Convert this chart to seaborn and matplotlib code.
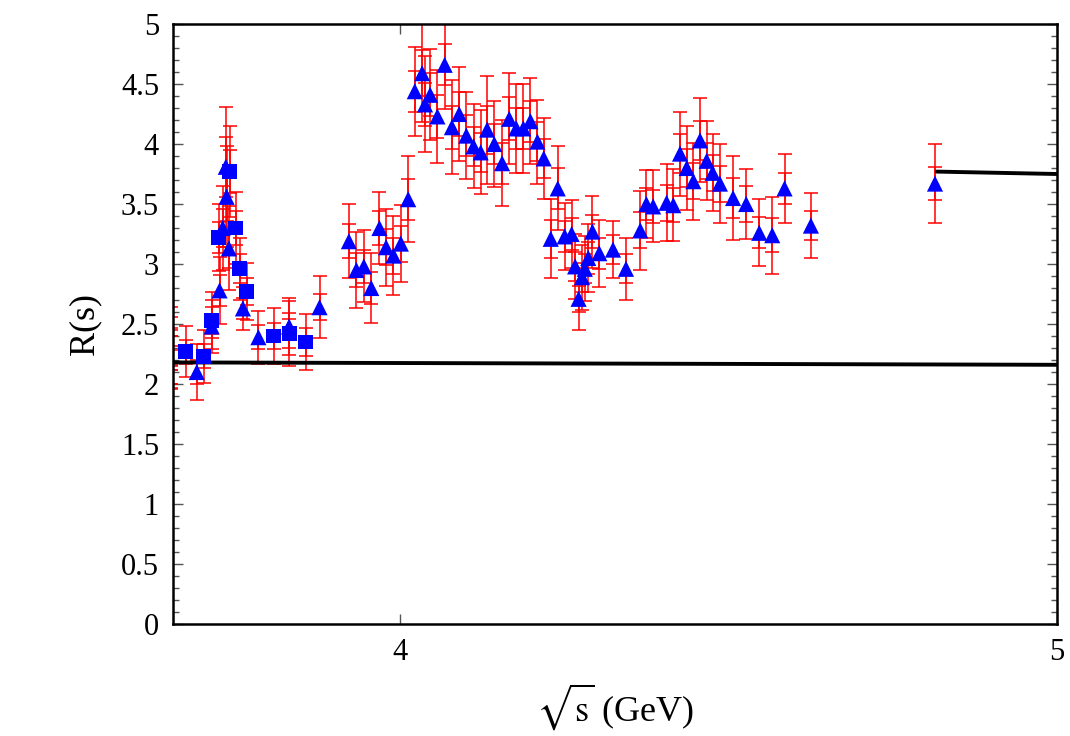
import numpy as np
import pandas as pd
import seaborn as sns
import matplotlib.pyplot as plt
from matplotlib.ticker import FixedLocator, NullLocator, MultipleLocator, FuncFormatter

# squares (first data set): sqrt(s), R, total error, stat error
sq_x = [3.719, 3.742, 3.752, 3.761, 3.775, 3.783, 3.788, 3.797, 3.832, 3.852, 3.874]
sq_y = [2.27, 2.23, 2.53, 3.22, 3.77, 3.30, 2.96, 2.77, 2.40, 2.42, 2.35]
sq_tot = [0.21, 0.22, 0.24, 0.28, 0.38, 0.30, 0.26, 0.24, 0.23, 0.27, 0.23]
sq_stat = [0.10, 0.10, 0.11, 0.13, 0.18, 0.14, 0.12, 0.11, 0.11, 0.12, 0.12]

# triangles (second data set)
tr_x = [3.733, 3.752, 3.762, 3.766, 3.770, 3.771, 3.774, 3.792, 3.812, 3.852,
        3.892, 3.931, 3.941, 3.951, 3.961, 3.972, 3.981, 3.991, 4.001, 4.011,
        4.020, 4.030, 4.034, 4.041, 4.051, 4.061, 4.071, 4.081, 4.091, 4.101,
        4.111, 4.120, 4.130, 4.141, 4.151, 4.161, 4.171, 4.181, 4.191, 4.200,
        4.210, 4.220, 4.230, 4.240, 4.245, 4.250, 4.255, 4.259, 4.264, 4.270,
        4.280, 4.300, 4.319, 4.340, 4.349, 4.359, 4.379, 4.389, 4.399, 4.409,
        4.419, 4.429, 4.439, 4.448, 4.459, 4.479, 4.499, 4.519, 4.539, 4.558,
        4.599, 4.797]
tr_y = [2.10, 2.48, 2.78, 3.30, 3.81, 3.56, 3.13, 2.63, 2.39, 2.48,
        2.64, 3.19, 2.95, 2.98, 2.80, 3.30, 3.14, 3.07, 3.17, 3.54,
        4.44, 4.59, 4.33, 4.41, 4.23, 4.66, 4.14, 4.25, 4.07, 3.98,
        3.93, 4.12, 4.00, 3.84, 4.21, 4.13, 4.13, 4.19, 4.02, 3.88,
        3.21, 3.63, 3.23, 3.25, 2.98, 2.71, 2.89, 2.96, 3.05, 3.27,
        3.09, 3.12, 2.96, 3.28, 3.50, 3.48, 3.51, 3.49, 3.92, 3.80,
        3.69, 4.03, 3.86, 3.76, 3.67, 3.55, 3.50, 3.26, 3.24, 3.63,
        3.32, 3.67]
tr_tot = [0.23, 0.22, 0.28, 0.35, 0.50, 0.42, 0.35, 0.18, 0.22, 0.24,
          0.26, 0.31, 0.32, 0.30, 0.29, 0.30, 0.32, 0.33, 0.32, 0.36,
          0.37, 0.41, 0.40, 0.38, 0.39, 0.37, 0.39, 0.39, 0.36, 0.35,
          0.35, 0.45, 0.36, 0.36, 0.38, 0.37, 0.37, 0.36, 0.35, 0.34,
          0.33, 0.35, 0.28, 0.28, 0.27, 0.26, 0.27, 0.27, 0.28, 0.30,
          0.28, 0.24, 0.26, 0.33, 0.28, 0.30, 0.32, 0.30, 0.35, 0.35,
          0.32, 0.35, 0.33, 0.32, 0.33, 0.35, 0.29, 0.28, 0.32, 0.29,
          0.27, 0.33]
tr_stat = [0.10, 0.10, 0.13, 0.16, 0.25, 0.20, 0.16, 0.09, 0.10, 0.11,
           0.11, 0.14, 0.14, 0.14, 0.13, 0.14, 0.15, 0.15, 0.15, 0.17,
           0.17, 0.19, 0.18, 0.18, 0.18, 0.17, 0.18, 0.18, 0.17, 0.16,
           0.16, 0.20, 0.17, 0.17, 0.18, 0.17, 0.17, 0.17, 0.16, 0.16,
           0.16, 0.17, 0.13, 0.13, 0.12, 0.11, 0.12, 0.12, 0.13, 0.14,
           0.13, 0.12, 0.12, 0.15, 0.13, 0.14, 0.15, 0.14, 0.16, 0.16,
           0.15, 0.16, 0.15, 0.15, 0.15, 0.17, 0.15, 0.13, 0.14, 0.13,
           0.12, 0.14]

# points just below the plotted range, only their error bars reach in
edge_x = [3.700, 3.700, 3.700, 3.700]
edge_y = [2.30, 2.22, 2.20, 2.28]
edge_tot = [0.34, 0.25, 0.20, 0.28]
edge_stat = [0.15, 0.10, 0.08, 0.12]

# perturbative QCD curves
qcd_low_x = [3.70, 5.0]
qcd_low_y = [2.18, 2.16]
qcd_high_x = [4.80, 5.0]
qcd_high_y = [3.77, 3.75]


def draw_errors(ax, x, y, tot, stat):
    ax.errorbar(x, y, yerr=tot, fmt='none', ecolor='red', elinewidth=1.1,
                capsize=5, capthick=1.1, zorder=2)
    ax.errorbar(x, y, yerr=stat, fmt='none', ecolor='red', elinewidth=1.1,
                capsize=5, capthick=1.1, zorder=2)


def main():
    sns.set_theme(style='ticks')
    plt.rcParams['font.family'] = ['Liberation Serif', 'DejaVu Serif']
    plt.rcParams['mathtext.fontset'] = 'stix'
    plt.rcParams['text.color'] = 'black'
    plt.rcParams['axes.labelcolor'] = 'black'
    plt.rcParams['xtick.labelcolor'] = 'black'
    plt.rcParams['ytick.labelcolor'] = 'black'

    fig = plt.figure(figsize=(10.7, 7.36), dpi=100)
    ax = fig.add_axes([173 / 1070, 1 - 624 / 736, 884 / 1070, 600 / 736])

    sq = pd.DataFrame({'x': sq_x, 'y': sq_y})
    tr = pd.DataFrame({'x': tr_x, 'y': tr_y})

    draw_errors(ax, edge_x, edge_y, edge_tot, edge_stat)
    draw_errors(ax, sq_x, sq_y, sq_tot, sq_stat)
    draw_errors(ax, tr_x, tr_y, tr_tot, tr_stat)

    sns.lineplot(x=qcd_low_x, y=qcd_low_y, color='black', linewidth=2.8,
                 ax=ax, zorder=3)
    sns.lineplot(x=qcd_high_x, y=qcd_high_y, color='black', linewidth=2.8,
                 ax=ax, zorder=3)

    sns.scatterplot(data=tr, x='x', y='y', marker='^', s=135, color='#0000ff',
                    edgecolor='none', ax=ax, zorder=4)
    sns.scatterplot(data=sq, x='x', y='y', marker='s', s=115, color='#0000ff',
                    edgecolor='none', ax=ax, zorder=4)

    ax.set_xscale('log')
    ax.set_xlim(3.703, 5.0)
    ax.set_ylim(0, 5)
    ax.xaxis.set_major_locator(FixedLocator([4, 5]))
    ax.xaxis.set_minor_locator(NullLocator())
    ax.xaxis.set_major_formatter(FuncFormatter(lambda v, p: '%g' % v))
    ax.yaxis.set_major_locator(MultipleLocator(0.5))
    ax.yaxis.set_minor_locator(MultipleLocator(0.1))
    ax.yaxis.set_major_formatter(FuncFormatter(lambda v, p: '%g' % v))

    ax.tick_params(which='both', direction='in', top=True, right=True,
                   color='#555555', labelsize=22, pad=10)
    ax.tick_params(which='major', length=7, width=1)
    ax.tick_params(which='minor', length=4, width=1)
    for sp in ax.spines.values():
        sp.set_color('black')
        sp.set_linewidth(1.8)

    ax.set_xlabel(r'$\sqrt{\mathrm{s}}$ (GeV)', fontsize=26, labelpad=10)
    ax.set_ylabel('R(s)', fontsize=26, labelpad=14)

    fig.savefig('out.png', dpi=100)


if __name__ == '__main__':
    main()
